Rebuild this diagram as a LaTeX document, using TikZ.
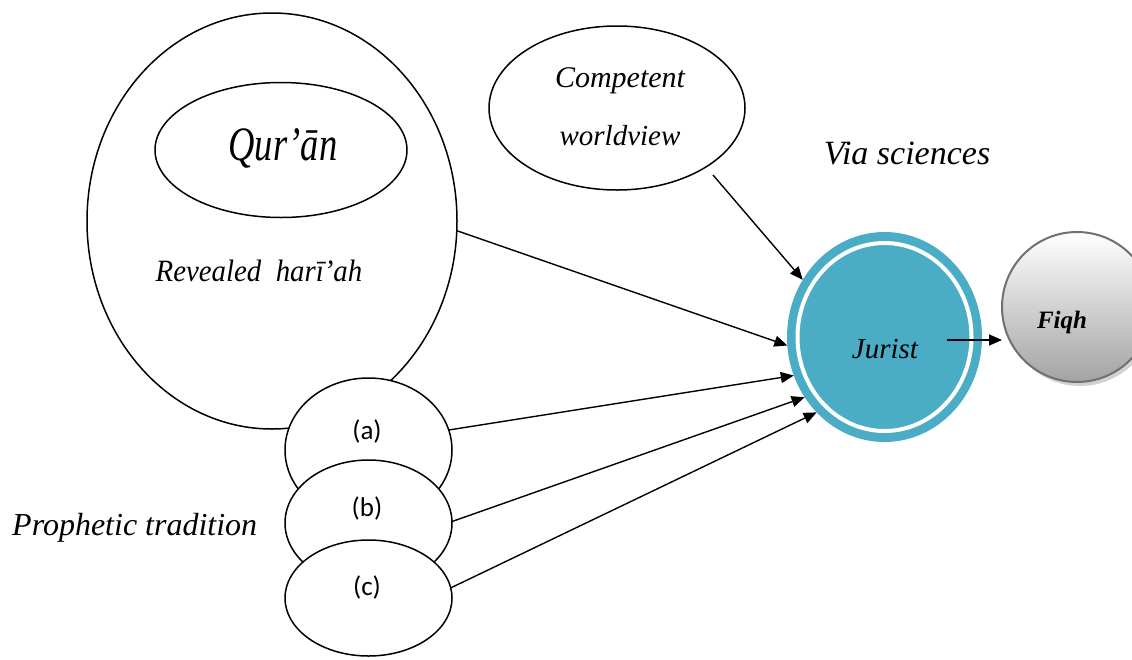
\documentclass[tikz,border=0pt]{standalone}
\usepackage{fontspec}
\usepackage{graphicx}
\setmainfont{Liberation Serif}
\newfontfamily\calfont{Carlito}
\usetikzlibrary{shapes.geometric,arrows.meta,shadows}
\definecolor{tealj}{HTML}{4BACC6}
\definecolor{fiqhborder}{RGB}{112,112,112}
\begin{document}
\begin{tikzpicture}[x=1pt,y=-1pt,
  ell/.style={ellipse,draw,line width=1.5pt,fill=white,inner sep=0pt,outer sep=0pt},
  arr/.style={line width=1.4pt,-{Triangle[length=13pt,width=11pt]}},
  lbl/.style={inner sep=0pt,font=\itshape},
  abc/.style={inner sep=0pt,font=\calfont\fontsize{27}{27}\selectfont}]
\useasboundingbox (0,0) rectangle (1132,659);
% Revealed shari'ah
\node[ell,minimum width=370pt,minimum height=416pt] (big) at (272,221) {};
\node[ell,minimum width=252pt,minimum height=135pt] (q) at (281,150) {};
\node[lbl] (qt) at (283,148) {\scalebox{0.76}[1]{\fontsize{48}{48}\selectfont Qur’ān}};
\node[lbl] (rt) at (259,271) {\scalebox{0.93}[1]{\fontsize{31}{31}\selectfont Revealed~~harī’ah}};
% Prophetic tradition
\node[ell,minimum width=167pt,minimum height=144pt] (a) at (368.5,450) {};
\node[ell,minimum width=167pt,minimum height=126pt] (b) at (368.5,523) {};
\node[ell,minimum width=167pt,minimum height=116pt] (c) at (368.5,598) {};
\node[abc] (at) at (367,431) {(a)};
\node[abc] (bt) at (367,508) {(b)};
\node[abc] (ct) at (367,587) {(c)};
\node[lbl,anchor=west] (pt) at (12,528) {\fontsize{32}{32}\selectfont Prophetic tradition};
% Competent worldview
\node[ell,minimum width=256pt,minimum height=164pt] (cw) at (617,108) {};
\node[lbl] (cw1) at (620,81) {\fontsize{30}{30}\selectfont Competent};
\node[lbl] (cw2) at (620,136) {\fontsize{29}{29}\selectfont worldview};
\node[lbl] (vs) at (907,153) {\fontsize{34}{34}\selectfont Via sciences};
% Jurist
\node[ellipse,fill=tealj,minimum width=195pt,minimum height=210pt,inner sep=0pt,outer sep=0pt] (J) at (884.5,337) {};
\node[ellipse,draw=white,line width=4pt,minimum width=174pt,minimum height=188pt,inner sep=0pt,outer sep=0pt] (Jin) at (J.center) {};
\node[lbl] (jt) at (885,349) {\fontsize{29}{29}\selectfont Jurist};
% Fiqh
\node[circle,minimum size=150pt,inner sep=0pt,outer sep=0pt,draw=fiqhborder,line width=2pt,
  top color=white,bottom color=black!36,
  drop shadow={shadow xshift=3pt,shadow yshift=-4pt,fill=black!22,opacity=0.8}] (F) at (1077,307) {};
\node[inner sep=0pt,font=\bfseries\itshape\fontsize{25}{25}\selectfont] (ft) at (1062,322) {Fiqh};
% connectors
\coordinate (cws) at (713,175);
\draw[arr] (cws) -- (J.145.8);
\draw[arr] (big.-3.5) -- (J.185);
\draw[arr] (a.14) -- (J.203);
\draw[arr] (b.1) -- (J.217);
\draw[arr] (c.7) -- (J.228);
\coordinate (js) at (947,340);
\draw[arr] (js) -- (js -| F.west);
\end{tikzpicture}
\end{document}
